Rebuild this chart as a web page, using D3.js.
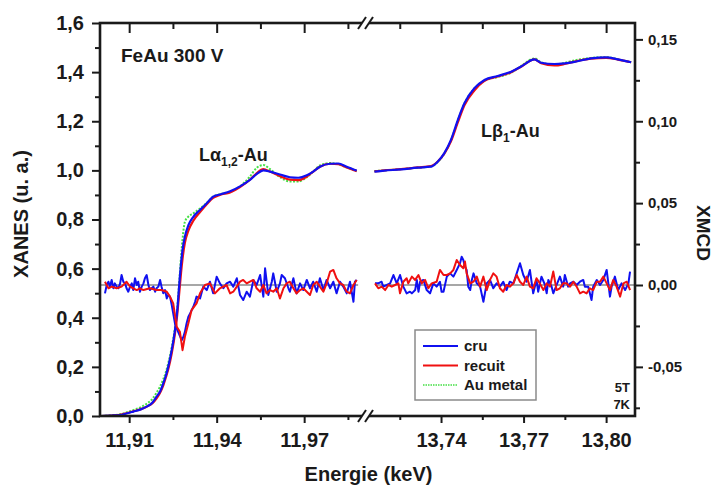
<!DOCTYPE html>
<html lang="fr">
<head>
<meta charset="utf-8">
<title>FeAu 300 V - XANES / XMCD</title>
<script src="https://d3js.org/d3.v7.min.js"></script>
<style>
  body { margin: 0; background: #fff; }
  svg text { font-family: "Liberation Sans", Arial, sans-serif; font-weight: bold; fill: #1a1a1a; }
</style>
</head>
<body>
<script>

// ---- XANES, low energy part (L alpha 1,2) ----
var xanesLoE = [11.9006,11.9040,11.9069,11.9090,11.9114,11.9140,11.9160,11.9180,11.9194,11.9206,
  11.9217,11.9226,11.9234,11.9246,11.9257,11.9265,11.9272,11.9278,11.9283,11.9291,
  11.9303,11.9320,11.9343,11.9366,11.9388,11.9411,11.9446,11.9480,11.9514,11.9537,
  11.9560,11.9583,11.9620,11.9651,11.9680,11.9709,11.9731,11.9754,11.9789,11.9817,
  11.9846,11.9880];
var cruLo = [0.000,0.002,0.004,0.010,0.018,0.027,0.038,0.055,0.079,0.100,
  0.133,0.165,0.201,0.269,0.350,0.432,0.540,0.622,0.676,0.730,
  0.777,0.811,0.839,0.866,0.893,0.902,0.915,0.935,0.961,0.985,
  1.000,0.995,0.982,0.972,0.970,0.980,0.995,1.015,1.027,1.028,
  1.015,0.999];
var recuitLo = [0.000,0.002,0.005,0.011,0.019,0.028,0.038,0.052,0.072,0.095,
  0.125,0.158,0.190,0.255,0.335,0.415,0.505,0.585,0.640,0.705,
  0.755,0.795,0.830,0.862,0.888,0.900,0.910,0.932,0.962,0.988,
  1.005,0.995,0.975,0.962,0.960,0.975,0.995,1.015,1.027,1.025,
  1.012,0.997];
var metalLo = [0.000,0.003,0.007,0.014,0.024,0.036,0.050,0.070,0.095,0.120,
  0.150,0.180,0.215,0.280,0.360,0.440,0.550,0.650,0.720,0.790,
  0.812,0.825,0.845,0.868,0.893,0.903,0.912,0.935,0.975,1.010,
  1.022,1.005,0.970,0.955,0.955,0.972,0.995,1.020,1.030,1.025,
  1.012,0.997];

// ---- XANES, high energy part (L beta 1) ----
var xanesHiE = [13.7158,13.7194,13.7255,13.7315,13.7364,13.7388,13.7412,13.7436,13.7461,13.7485,
  13.7521,13.7558,13.7606,13.7655,13.7691,13.7740,13.7764,13.7812,13.7849,13.7885,
  13.7945,13.8000,13.8043,13.8091];
var cruHi = [0.995,0.999,1.004,1.011,1.015,1.035,1.070,1.124,1.205,1.273,
  1.334,1.368,1.384,1.402,1.423,1.452,1.438,1.433,1.436,1.442,
  1.456,1.460,1.452,1.440];
var recuitHi = [0.996,1.000,1.005,1.012,1.018,1.036,1.068,1.118,1.195,1.265,
  1.325,1.365,1.382,1.400,1.422,1.452,1.436,1.427,1.433,1.443,
  1.455,1.458,1.451,1.440];
var metalHi = [0.997,1.000,1.005,1.011,1.016,1.034,1.068,1.122,1.202,1.272,
  1.333,1.365,1.380,1.398,1.425,1.456,1.440,1.430,1.438,1.448,
  1.458,1.461,1.452,1.440];

// ---- XMCD [energy, value] ----
var xmcdCruLo = [[11.9017,-0.0051],[11.9023,0],[11.9029,0.0020],[11.9034,-0.0010],[11.9040,0.0031],[11.9046,-0.0020],
  [11.9051,0.0010],[11.9057,-0.0010],[11.9063,-0.0020],[11.9069,0.0010],[11.9074,0.0061],[11.9080,0.0020],
  [11.9086,0.0010],[11.9091,-0.0020],[11.9097,-0.0041],[11.9103,-0.0010],[11.9109,0.0010],[11.9114,-0.0031],
  [11.9120,0.0041],[11.9126,0],[11.9131,0.0020],[11.9137,-0.0041],[11.9143,-0.0010],[11.9149,0.0010],
  [11.9154,0.0041],[11.9160,0.0061],[11.9166,0],[11.9171,-0.0031],[11.9177,-0.0020],[11.9183,-0.0010],
  [11.9189,-0.0041],[11.9194,-0.0020],[11.9200,-0.0010],[11.9206,0.0031],[11.9211,-0.0010],[11.9217,-0.0051],
  [11.9223,-0.0031],[11.9229,-0.0082],[11.9234,-0.0061],[11.9240,-0.0071],[11.9246,-0.0122],[11.9251,-0.0173],
  [11.9257,-0.0234],[11.9268,-0.0286],[11.9280,-0.0337],[11.9286,-0.0316],[11.9291,-0.0286],[11.9297,-0.0234],
  [11.9303,-0.0194],[11.9309,-0.0173],[11.9320,-0.0133],[11.9326,-0.0102],[11.9331,-0.0071],[11.9343,-0.0082],
  [11.9354,-0.0010],[11.9366,-0.0031],[11.9377,0.0020],[11.9388,-0.0051],[11.9400,0.0051],[11.9411,0.0010],
  [11.9423,-0.0020],[11.9434,0.0010],[11.9446,0.0020],[11.9457,-0.0010],[11.9469,0.0041],[11.9480,-0.0061],
  [11.9491,-0.0092],[11.9503,-0.0041],[11.9514,-0.0071],[11.9526,0.0031],[11.9537,0],[11.9549,0.0061],
  [11.9560,-0.0071],[11.9566,0.0102],[11.9577,-0.0061],[11.9589,0.0020],[11.9594,0.0071],[11.9606,-0.0041],
  [11.9617,0.0010],[11.9623,0.0061],[11.9634,0.0041],[11.9646,-0.0020],[11.9651,-0.0041],[11.9663,0.0041],
  [11.9674,-0.0051],[11.9686,0.0010],[11.9697,-0.0031],[11.9709,0.0031],[11.9720,-0.0020],[11.9731,0.0020],
  [11.9743,-0.0041],[11.9754,0.0041],[11.9766,-0.0031],[11.9777,0.0031],[11.9789,-0.0020],[11.9800,0.0020],
  [11.9811,-0.0051],[11.9823,0.0020],[11.9834,-0.0010],[11.9846,-0.0051],[11.9857,0.0020],[11.9869,-0.0102],
  [11.9874,0.0020],[11.9880,0.0031]];
var xmcdRecuitLo = [[11.9017,0.0020],[11.9029,-0.0020],[11.9040,-0.0010],[11.9057,-0.0020],[11.9074,-0.0010],
  [11.9091,0.0020],[11.9103,-0.0010],[11.9114,-0.0020],[11.9126,-0.0031],[11.9137,-0.0020],[11.9149,-0.0031],
  [11.9171,-0.0020],[11.9194,-0.0031],[11.9211,-0.0031],[11.9229,-0.0041],[11.9240,-0.0071],[11.9251,-0.0112],
  [11.9263,-0.0255],[11.9274,-0.0286],[11.9283,-0.0398],[11.9291,-0.0316],[11.9303,-0.0234],[11.9314,-0.0153],
  [11.9331,-0.0112],[11.9343,-0.0051],[11.9360,0],[11.9377,0.0010],[11.9394,-0.0051],[11.9411,-0.0020],
  [11.9434,0],[11.9446,-0.0051],[11.9457,-0.0041],[11.9469,-0.0010],[11.9480,0.0020],[11.9491,0.0031],
  [11.9503,0.0010],[11.9514,0.0020],[11.9526,0.0031],[11.9537,-0.0020],[11.9549,-0.0041],[11.9560,0],
  [11.9571,-0.0051],[11.9583,-0.0031],[11.9594,-0.0041],[11.9606,-0.0020],[11.9617,-0.0082],[11.9629,-0.0020],
  [11.9640,0.0010],[11.9651,0.0020],[11.9663,-0.0020],[11.9674,-0.0051],[11.9686,-0.0031],[11.9697,-0.0020],
  [11.9709,-0.0041],[11.9720,-0.0061],[11.9731,0],[11.9743,0.0020],[11.9754,-0.0010],[11.9766,-0.0041],
  [11.9777,0.0010],[11.9789,0.0082],[11.9800,0.0092],[11.9811,0.0041],[11.9823,0.0010],[11.9834,0],
  [11.9846,-0.0041],[11.9857,-0.0051],[11.9869,0],[11.9880,0.0031]];
var xmcdCruHi = [[13.7160,0.0010],[13.7172,0.0010],[13.7184,0.0020],[13.7190,-0.0010],[13.7203,0],[13.7215,0.0010],
  [13.7227,0.0061],[13.7239,0.0010],[13.7251,0.0061],[13.7263,-0.0010],[13.7275,-0.0051],[13.7287,-0.0041],
  [13.7294,-0.0051],[13.7306,-0.0031],[13.7312,0.0031],[13.7318,-0.0041],[13.7324,0.0020],[13.7336,0.0031],
  [13.7348,-0.0031],[13.7360,-0.0051],[13.7372,0.0010],[13.7384,-0.0010],[13.7396,0.0020],[13.7402,-0.0041],
  [13.7409,-0.0041],[13.7421,0.0051],[13.7433,0.0071],[13.7445,0.0051],[13.7457,0.0092],[13.7469,0.0133],
  [13.7475,0.0173],[13.7481,0.0153],[13.7487,0.0112],[13.7493,0.0092],[13.7499,-0.0010],[13.7506,-0.0031],
  [13.7512,0.0031],[13.7518,0.0071],[13.7530,0.0010],[13.7542,-0.0010],[13.7554,-0.0102],[13.7566,0.0010],
  [13.7578,0.0031],[13.7590,-0.0020],[13.7602,0.0010],[13.7614,-0.0010],[13.7626,0.0020],[13.7638,-0.0031],
  [13.7650,0.0020],[13.7663,0.0010],[13.7675,0.0071],[13.7687,0.0133],[13.7699,0.0061],[13.7711,0.0020],
  [13.7723,0.0092],[13.7735,-0.0051],[13.7747,0.0031],[13.7753,-0.0041],[13.7765,0.0051],[13.7778,0],
  [13.7784,-0.0051],[13.7790,0.0031],[13.7802,-0.0010],[13.7808,-0.0051],[13.7820,0],[13.7832,0.0051],
  [13.7844,-0.0010],[13.7850,0.0061],[13.7862,-0.0010],[13.7869,0.0010],[13.7881,0.0020],[13.7893,0],
  [13.7905,0.0020],[13.7917,0.0031],[13.7923,-0.0010],[13.7935,-0.0010],[13.7947,-0.0092],[13.7953,-0.0010],
  [13.7966,0.0031],[13.7978,0],[13.7990,0.0031],[13.8002,0.0092],[13.8014,-0.0071],[13.8020,-0.0010],
  [13.8032,0.0051],[13.8044,-0.0031],[13.8056,0.0010],[13.8069,-0.0031],[13.8081,0.0010],[13.8087,0.0082]];
var xmcdRecuitHi = [[13.7160,0.0010],[13.7172,-0.0020],[13.7184,-0.0010],[13.7197,-0.0031],[13.7209,0],
  [13.7221,-0.0010],[13.7233,0],[13.7245,0.0010],[13.7251,-0.0051],[13.7263,0.0020],[13.7275,0.0041],
  [13.7281,0.0010],[13.7294,0.0051],[13.7306,0.0031],[13.7318,0.0061],[13.7330,0.0010],[13.7342,0.0031],
  [13.7354,-0.0020],[13.7366,0.0010],[13.7384,0.0020],[13.7396,0.0092],[13.7409,0.0061],[13.7421,0.0061],
  [13.7433,0.0071],[13.7445,0.0092],[13.7457,0.0153],[13.7469,0.0122],[13.7481,0.0102],[13.7487,0.0143],
  [13.7493,0.0071],[13.7506,0.0010],[13.7518,0.0020],[13.7530,0.0051],[13.7542,-0.0010],[13.7554,0.0051],
  [13.7566,-0.0031],[13.7578,0.0031],[13.7590,0.0071],[13.7602,0.0051],[13.7614,-0.0020],[13.7626,-0.0041],
  [13.7638,0],[13.7650,-0.0010],[13.7663,0.0010],[13.7675,0.0061],[13.7687,0.0020],[13.7699,0],
  [13.7711,0.0051],[13.7723,-0.0010],[13.7735,-0.0020],[13.7747,0.0041],[13.7759,0.0010],[13.7772,-0.0031],
  [13.7784,0.0010],[13.7796,-0.0010],[13.7808,0.0082],[13.7820,-0.0031],[13.7832,-0.0020],[13.7844,0.0010],
  [13.7856,0.0010],[13.7869,-0.0010],[13.7881,0.0020],[13.7893,-0.0010],[13.7905,-0.0051],[13.7917,-0.0041],
  [13.7929,-0.0051],[13.7941,-0.0020],[13.7953,-0.0031],[13.7966,0.0020],[13.7978,0.0020],[13.7990,0.0051],
  [13.8002,0.0010],[13.8014,-0.0031],[13.8026,0.0031],[13.8038,-0.0010],[13.8051,-0.0071],[13.8063,0.0010],
  [13.8075,0.0020],[13.8087,-0.0031]];

// ticks
var xLoMajor = [11.91, 11.94, 11.97], xLoMinor = [11.925, 11.955, 11.985];
var xHiMajor = [13.74, 13.77, 13.80], xHiMinor = [13.725, 13.755, 13.785];
var yLMajor = [0, 0.2, 0.4, 0.6, 0.8, 1.0, 1.2, 1.4, 1.6];
var yLMinor = [0.1, 0.3, 0.5, 0.7, 0.9, 1.1, 1.3, 1.5];
var yRMajor = [-0.05, 0, 0.05, 0.10, 0.15];
var yRMinor = [-0.075, -0.025, 0.025, 0.075, 0.125];

var legendNames = ["cru", "recuit", "Au metal"];
var colors = { cru: "#1010f0", recuit: "#f01010", metal: "#44e044" };

// ---- layout ----
var w = 718, h = 488;
var pL = 100, pR = 635, pT = 23, pB = 416;
var breakL = 362.5, breakR = 375;

var xLo = d3.scaleLinear().domain([11.90, 11.99]).range([pL, breakL]);
var xHi = d3.scaleLinear().domain([13.716, 13.8105]).range([breakR, pR]);
var yL = d3.scaleLinear().domain([0, 1.6]).range([pB, pT]);
var yR = d3.scaleLinear().domain([-0.08, 0.16]).range([pB, pT]);

var loc = d3.formatLocale({decimal: ",", thousands: ".", grouping: [3], currency: ["", ""], minus: "-"});
var f1 = loc.format(".1f"), f2 = loc.format(".2f");

var svg = d3.select("body").append("svg").attr("width", w).attr("height", h);

// zero line of XMCD
svg.append("line").attr("x1", xLo(11.9000)).attr("x2", xLo(11.9885))
  .attr("y1", yR(0)).attr("y2", yR(0)).attr("stroke", "#8a8a8a").attr("stroke-width", 1.3);
svg.append("line").attr("x1", xHi(13.716)).attr("x2", xHi(13.8105))
  .attr("y1", yR(0)).attr("y2", yR(0)).attr("stroke", "#8a8a8a").attr("stroke-width", 1.3);

function xanesLine(xs, es) {
  return d3.line().x(function(d, i) { return xs(es[i]); }).y(function(d) { return yL(d); }).curve(d3.curveMonotoneX);
}
function xmcdLine(xs) {
  return d3.line().x(function(d) { return xs(d[0]); }).y(function(d) { return yR(d[1]); });
}

var curves = svg.append("g").attr("fill", "none").attr("stroke-linejoin", "round");

// Au metal (green dotted), recuit, cru
[[metalLo, xLo, xanesLoE], [metalHi, xHi, xanesHiE]].forEach(function(s) {
  curves.append("path").attr("d", xanesLine(s[1], s[2])(s[0]))
    .attr("stroke", colors.metal).attr("stroke-width", 2).attr("stroke-dasharray", "2,1.5");
});
[[recuitLo, xLo, xanesLoE], [recuitHi, xHi, xanesHiE]].forEach(function(s) {
  curves.append("path").attr("d", xanesLine(s[1], s[2])(s[0]))
    .attr("stroke", colors.recuit).attr("stroke-width", 2.2);
});
[[cruLo, xLo, xanesLoE], [cruHi, xHi, xanesHiE]].forEach(function(s) {
  curves.append("path").attr("d", xanesLine(s[1], s[2])(s[0]))
    .attr("stroke", colors.cru).attr("stroke-width", 2.2);
});

// XMCD
[[xmcdCruLo, xLo], [xmcdCruHi, xHi]].forEach(function(s) {
  curves.append("path").attr("d", xmcdLine(s[1])(s[0]))
    .attr("stroke", colors.cru).attr("stroke-width", 2);
});
[[xmcdRecuitLo, xLo], [xmcdRecuitHi, xHi]].forEach(function(s) {
  curves.append("path").attr("d", xmcdLine(s[1])(s[0]))
    .attr("stroke", colors.recuit).attr("stroke-width", 2);
});

// ---- axes ----
function styleAxis(g) {
  g.select(".domain").remove();
  g.selectAll(".tick line").attr("stroke", "#1a1a1a").attr("stroke-width", 2);
  g.selectAll(".tick text").attr("fill", "#1a1a1a");
}

// bottom
[[xLo, xLoMajor, xLoMinor], [xHi, xHiMajor, xHiMinor]].forEach(function(s) {
  svg.append("g").attr("transform", "translate(0," + pB + ")")
    .call(d3.axisBottom(s[0]).tickValues(s[1]).tickSize(7).tickPadding(10).tickFormat(f2))
    .call(styleAxis).selectAll("text").style("font-size", "20px");
  svg.append("g").attr("transform", "translate(0," + pB + ")")
    .call(d3.axisBottom(s[0]).tickValues(s[2]).tickSize(4).tickFormat(""))
    .call(styleAxis);
  // top, ticks inward
  svg.append("g").attr("transform", "translate(0," + pT + ")")
    .call(d3.axisBottom(s[0]).tickValues(s[1]).tickSize(10).tickFormat(""))
    .call(styleAxis);
  svg.append("g").attr("transform", "translate(0," + pT + ")")
    .call(d3.axisBottom(s[0]).tickValues(s[2]).tickSize(6).tickFormat(""))
    .call(styleAxis);
});

// left
svg.append("g").attr("transform", "translate(" + pL + ",0)")
  .call(d3.axisLeft(yL).tickValues(yLMajor).tickSize(8).tickPadding(8).tickFormat(f1))
  .call(styleAxis).selectAll("text").style("font-size", "20px");
svg.append("g").attr("transform", "translate(" + pL + ",0)")
  .call(d3.axisLeft(yL).tickValues(yLMinor).tickSize(5).tickFormat(""))
  .call(styleAxis);

// right
svg.append("g").attr("transform", "translate(" + pR + ",0)")
  .call(d3.axisRight(yR).tickValues(yRMajor).tickSize(8).tickPadding(5).tickFormat(f2))
  .call(styleAxis).selectAll("text").style("font-size", "15px");
svg.append("g").attr("transform", "translate(" + pR + ",0)")
  .call(d3.axisRight(yR).tickValues(yRMinor).tickSize(5).tickFormat(""))
  .call(styleAxis);

// frame
svg.append("rect").attr("x", pL).attr("y", pT).attr("width", pR - pL).attr("height", pB - pT)
  .attr("stroke", "#1a1a1a").attr("stroke-width", 2.6).attr("fill", "none");

// axis break marks
[pT, pB].forEach(function(y) {
  svg.append("rect").attr("x", 362).attr("y", y - 3).attr("width", 7).attr("height", 6).attr("fill", "#fff");
  [358, 365].forEach(function(x0) {
    svg.append("line").attr("x1", x0).attr("y1", y + 6).attr("x2", x0 + 8).attr("y2", y - 6)
      .attr("stroke", "#1a1a1a").attr("stroke-width", 2);
  });
});

// ---- titles ----
svg.append("text").attr("x", (pL + pR) / 2 + 1).attr("y", 481).attr("text-anchor", "middle")
  .style("font-size", "20px").text("Energie (keV)");
svg.append("text").attr("transform", "translate(28,214) rotate(-90)").attr("text-anchor", "middle")
  .style("font-size", "20px").text("XANES (u. a.)");
svg.append("text").attr("transform", "translate(697,233) rotate(90)").attr("text-anchor", "middle")
  .style("font-size", "19px").text("XMCD");

svg.append("text").attr("x", 121).attr("y", 62).style("font-size", "19px").text("FeAu 300 V");

var la = svg.append("text").attr("x", 199).attr("y", 161).style("font-size", "18px");
la.append("tspan").text("L\u03b1");
la.append("tspan").attr("dy", 5).style("font-size", "12px").text("1,2");
la.append("tspan").attr("dy", -5).text("-Au");

var lb = svg.append("text").attr("x", 481).attr("y", 137).style("font-size", "18px");
lb.append("tspan").text("L\u03b2");
lb.append("tspan").attr("dy", 5).style("font-size", "12px").text("1");
lb.append("tspan").attr("dy", -5).text("-Au");

// ---- legend ----
var lg = svg.append("g");
lg.append("rect").attr("x", 415).attr("y", 330).attr("width", 121).attr("height", 70)
  .attr("fill", "#fff").attr("stroke", "#8a8a8a").attr("stroke-width", 1.5);
var legendColors = [colors.cru, colors.recuit, colors.metal];
legendNames.forEach(function(name, i) {
  var y = 346 + i * 19.5;
  lg.append("line").attr("x1", 423).attr("x2", 458).attr("y1", y).attr("y2", y)
    .attr("stroke", legendColors[i]).attr("stroke-width", i == 2 ? 1.5 : 2.2)
    .attr("stroke-dasharray", i == 2 ? "1.5,1" : null);
  lg.append("text").attr("x", 464).attr("y", y + 5).style("font-size", "15px").text(name);
});

svg.append("text").attr("x", 630).attr("y", 392).attr("text-anchor", "end").style("font-size", "13px").text("5T");
svg.append("text").attr("x", 630).attr("y", 409).attr("text-anchor", "end").style("font-size", "13px").text("7K");

</script>
</body>
</html>
